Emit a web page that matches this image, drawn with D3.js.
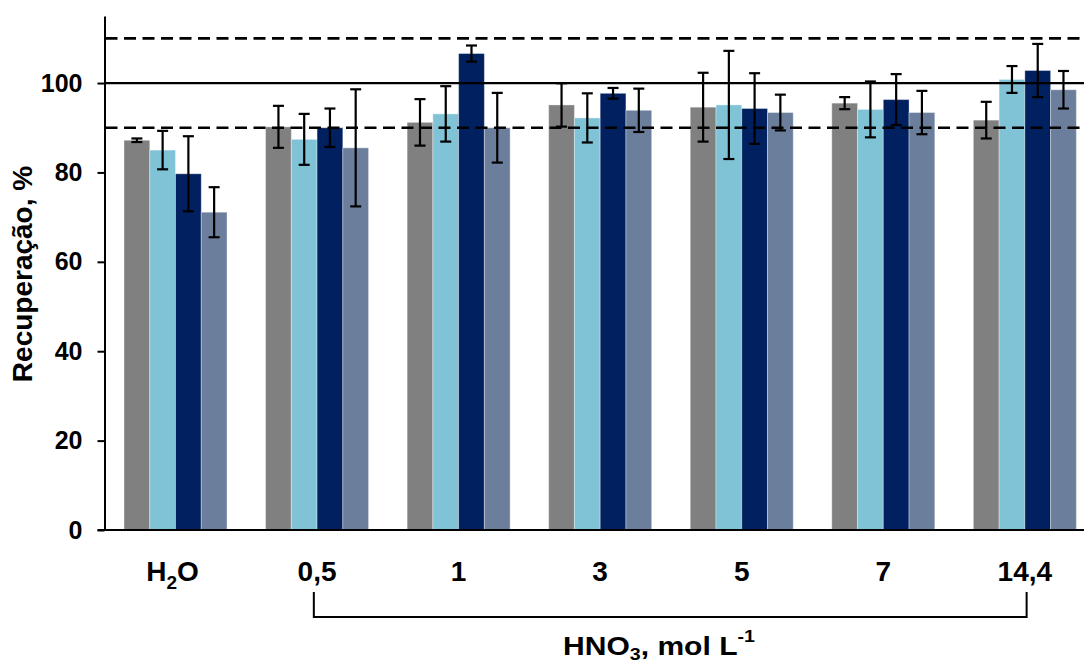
<!DOCTYPE html>
<html>
<head>
<meta charset="utf-8">
<script src="https://cdn.jsdelivr.net/npm/d3@7"></script>
<style>
  html, body { margin: 0; padding: 0; background: #fff; }
  svg { display: block; font-family: "Liberation Sans", Arial, sans-serif; font-weight: bold; }
</style>
</head>
<body>
<svg id="chart" width="1084" height="666"></svg>
<script>
// ---- data ----
const categories = ["H2O", "0,5", "1", "3", "5", "7", "14,4"];
const seriesNames = ["A", "B", "C", "D"];
const seriesA = [87.2, 90.2, 91.2, 95.1, 94.6, 95.5, 91.7];
const errorsA = [0.4, 4.7, 5.2, 4.85, 7.7, 1.35, 4.1];
const seriesB = [85.0, 87.4, 93.1, 92.2, 95.1, 94.1, 100.8];
const errorsB = [4.3, 5.7, 6.2, 5.5, 12.1, 6.25, 3.0];
const seriesC = [79.7, 90.0, 106.6, 97.7, 94.3, 96.3, 102.8];
const errorsC = [8.4, 4.3, 1.8, 1.2, 7.9, 5.7, 5.95];
const seriesD = [71.1, 85.5, 90.0, 93.9, 93.4, 93.4, 98.5];
const errorsD = [5.6, 13.1, 7.8, 4.85, 4.0, 4.85, 4.2];
const yTicks = [0, 20, 40, 60, 80, 100];
const referenceSolid = [100];
const referenceDashed = [90, 110];
const yLabel = "Recuperação, %";
const bracketFrom = "0,5", bracketTo = "14,4";

const colors = ["#808080", "#80C3D6", "#002060", "#6B7F9C"];

// ---- build ----
const valuesBySeries = [seriesA, seriesB, seriesC, seriesD];
const errorsBySeries = [errorsA, errorsB, errorsC, errorsD];
const rows = [];
categories.forEach((c, i) => {
  seriesNames.forEach((s, j) => {
    rows.push({ cat: c, series: s, si: j, value: valuesBySeries[j][i], err: errorsBySeries[j][i] });
  });
});

const svg = d3.select("#chart");
const plotLeft = 104.5, plotTop = 16, plotBottom = 530, plotRightEnd = 1095.4;

const y = d3.scaleLinear().domain([0, 115]).range([plotBottom, plotTop]);
const x0 = d3.scaleBand().domain(categories).range([plotLeft, plotRightEnd]).padding(0);
const step = x0.bandwidth();
const x1 = d3.scaleBand().domain(seriesNames).range([step * 0.1378, step * 0.8654]).padding(0);

// bars
svg.append("g").selectAll("rect").data(rows).join("rect")
  .attr("x", d => x0(d.cat) + x1(d.series))
  .attr("y", d => y(d.value))
  .attr("width", x1.bandwidth())
  .attr("height", d => y(0) - y(d.value))
  .attr("fill", d => colors[d.si])
  .attr("stroke", "rgba(255,255,255,0.35)")
  .attr("stroke-width", 1);

// reference lines
const refG = svg.append("g");
refG.selectAll("line.solid").data(referenceSolid).join("line")
  .attr("class", "solid")
  .attr("x1", plotLeft).attr("x2", 1084)
  .attr("y1", d => y(d)).attr("y2", d => y(d))
  .attr("stroke", "#000").attr("stroke-width", 2.2);
refG.selectAll("line.dash").data(referenceDashed).join("line")
  .attr("class", "dash")
  .attr("x1", plotLeft + 1).attr("x2", 1084)
  .attr("y1", d => y(d)).attr("y2", d => y(d))
  .attr("stroke", "#000").attr("stroke-width", 2.6)
  .attr("stroke-dasharray", "12,6.5");

// error bars
const capHalf = 5.5;
const eg = svg.append("g").attr("stroke", "#000").attr("stroke-width", 2.2);
rows.forEach(d => {
  const cx = x0(d.cat) + x1(d.series) + x1.bandwidth() / 2;
  const yt = y(d.value + d.err), yb = y(d.value - d.err);
  eg.append("line").attr("x1", cx).attr("x2", cx).attr("y1", yt).attr("y2", yb);
  eg.append("line").attr("x1", cx - capHalf).attr("x2", cx + capHalf).attr("y1", yt).attr("y2", yt);
  eg.append("line").attr("x1", cx - capHalf).attr("x2", cx + capHalf).attr("y1", yb).attr("y2", yb);
});

// y axis
const yAxis = d3.axisLeft(y).tickValues(yTicks).tickSize(7).tickSizeOuter(0).tickPadding(15);
const yg = svg.append("g").attr("transform", `translate(${plotLeft},0)`).call(yAxis);
yg.attr("font-size", 25).attr("font-family", "Liberation Sans, Arial, sans-serif").attr("font-weight", "bold");
yg.select(".domain").attr("stroke", "#000").attr("stroke-width", 2);
yg.selectAll(".tick line").attr("stroke", "#000").attr("stroke-width", 2);
yg.selectAll(".tick text").attr("fill", "#000").style("font-size", "25px").style("font-weight", "bold");

// x axis line
svg.append("line").attr("x1", plotLeft - 7).attr("x2", 1084)
  .attr("y1", y(0)).attr("y2", y(0)).attr("stroke", "#000").attr("stroke-width", 2);

// x labels (digits after letters become subscripts)
const xl = svg.append("g");
categories.forEach(c => {
  const t = xl.append("text")
    .attr("x", x0(c) + step * 0.5015 - (c === "H2O" ? 3 : 0))
    .attr("y", 581)
    .attr("text-anchor", "middle")
    .style("font-size", "28px");
  const parts = c.match(/[A-Za-z]+|[0-9,]+/g);
  if (/^[A-Za-z]/.test(c)) {
    parts.forEach((p, k) => {
      if (/^[0-9]+$/.test(p)) {
        t.append("tspan").text(p).style("font-size", "19px").attr("dy", 8);
      } else {
        const ts = t.append("tspan").text(p);
        if (k > 0) ts.attr("dy", -8);
      }
    });
  } else {
    t.text(c);
  }
});

// bracket
const bx1 = x0(bracketFrom) + step * 0.5 - 3;
const bx2 = x0(bracketTo) + step * 0.5 + 2;
svg.append("path")
  .attr("d", `M${bx1},592 V617 H${bx2} V592`)
  .attr("fill", "none").attr("stroke", "#000").attr("stroke-width", 2);

// HNO3 label
const lab = svg.append("g");
const lt = lab.append("text").attr("text-anchor", "middle").attr("x", 0).attr("y", 0).style("font-size", "26px");
lt.append("tspan").text("HNO");
lt.append("tspan").text("3").style("font-size", "17px").attr("dy", 5);
lt.append("tspan").text(", mol L").attr("dy", -5);
lt.append("tspan").text("-1").style("font-size", "17px").attr("dy", -13);
const w = lt.node().getBBox().width;
const sx = 192 / w;
lab.attr("transform", `translate(659,655) scale(${sx},1)`);

// y label
svg.append("text")
  .attr("transform", "translate(32,274) rotate(-90)")
  .attr("text-anchor", "middle")
  .style("font-size", "28px")
  .text(yLabel);
</script>
</body>
</html>
